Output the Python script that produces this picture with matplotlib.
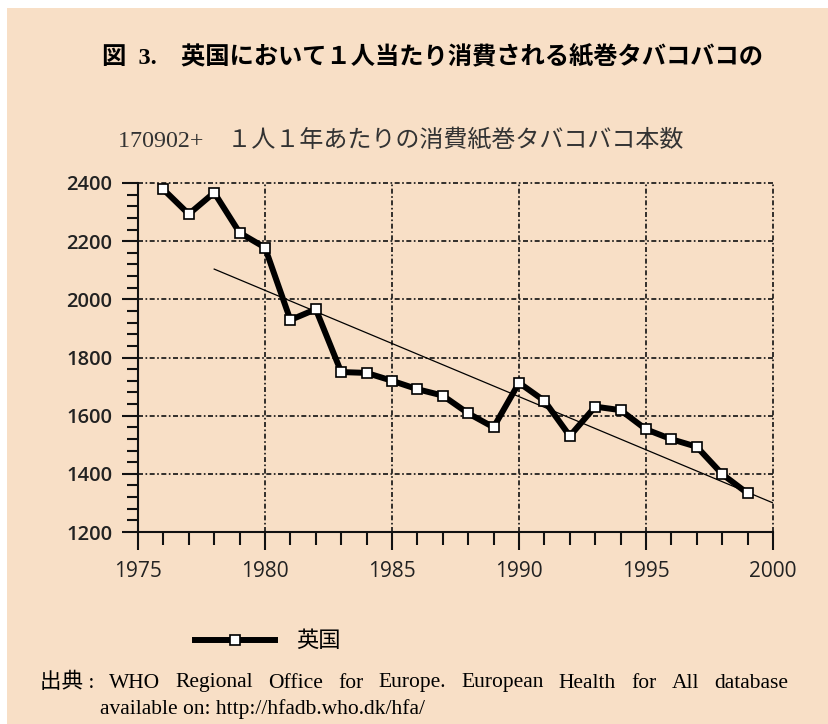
import matplotlib
matplotlib.use("Agg")
import matplotlib.pyplot as plt
from matplotlib.patches import Rectangle
from matplotlib.ticker import MultipleLocator
from matplotlib.lines import Line2D

W, H = 829, 724

TITLE = "図  3.　英国において１人当たり消費される紙巻タバコバコの"
SUBTITLE = "170902+　１人１年あたりの消費紙巻タバコバコ本数"
SERIES_LABEL = "英国"
SOURCE_HEAD = "出典 :"
SOURCE_LINE1 = "WHO Regional Office for Europe. European Health for All database"
SOURCE_LINE2 = "available on: http://hfadb.who.dk/hfa/"

years = [1976, 1977, 1978, 1979, 1980, 1981, 1982, 1983, 1984, 1985, 1986, 1987,
         1988, 1989, 1990, 1991, 1992, 1993, 1994, 1995, 1996, 1997, 1998, 1999]
cigarettes = [2378, 2293, 2367, 2229, 2178, 1929, 1966, 1750, 1747, 1720, 1691, 1669,
              1608, 1560, 1713, 1651, 1530, 1631, 1619, 1553, 1519, 1493, 1399, 1333]

# trend line as drawn in the original (start / end)
trend_years = [1978, 2000]
trend_values = [2104, 1300]

x_ticks = [1975, 1980, 1985, 1990, 1995, 2000]
y_ticks = [1200, 1400, 1600, 1800, 2000, 2200, 2400]

BG = "#f8dfc6"
CJK = ["Liberation Serif", "Noto Sans CJK JP"]

fig = plt.figure(figsize=(W / 100, H / 100), dpi=100, facecolor="white")
# peach panel with thin white margin at top and left
fig.patches.append(Rectangle((7 / W, 0), 1, 1 - 8 / H, transform=fig.transFigure,
                             facecolor=BG, edgecolor="none", zorder=-5))

ax = fig.add_axes([138 / W, 1 - 532 / H, 635 / W, 349 / H])
ax.set_facecolor("none")
ax.set_zorder(2)

ax.plot(trend_years, trend_values, color="black", lw=0.9, zorder=3)
ax.plot(years, cigarettes, color="black", lw=4.3, marker="s", markersize=7.3,
        markerfacecolor="white", markeredgecolor="black", markeredgewidth=1.2,
        zorder=4)

ax.set_xlim(1975, 2000)
ax.set_ylim(1200, 2400)
ax.set_xticks(x_ticks)
ax.set_yticks(y_ticks)
ax.xaxis.set_minor_locator(MultipleLocator(1))
ax.yaxis.set_minor_locator(MultipleLocator(40))

grid_style = dict(color="#111111", lw=1.2, linestyle=(0, (3, 1.5, 1, 1.5)), zorder=2,
                  clip_on=False)
for x in x_ticks[1:]:
    ax.axvline(x, **grid_style)
for y in y_ticks[1:]:
    ax.axhline(y, **grid_style)

for side in ["top", "right"]:
    ax.spines[side].set_visible(False)
for side in ["left", "bottom"]:
    ax.spines[side].set_linewidth(1.5)
    ax.spines[side].set_color("#111111")

ax.tick_params(axis="x", which="major", direction="out", length=13, width=1.5,
               pad=8, labelsize=15, labelcolor="#222222", color="#111111")
ax.tick_params(axis="x", which="minor", direction="out", length=9, width=1.5,
               color="#111111")
ax.tick_params(axis="y", which="major", direction="out", length=11.5, width=1.5,
               pad=7, labelsize=14.5, labelcolor="#222222", color="#111111")
ax.tick_params(axis="y", which="minor", direction="out", length=8, width=1.5,
               color="#111111")
for lab in ax.get_xticklabels():
    lab.set_family(["Open Sans", "DejaVu Sans"])
for lab in ax.get_yticklabels():
    lab.set_family(["Open Sans", "DejaVu Sans"])
    lab.set_fontweight("semibold")

# titles
fig.text(102 / W, 1 - 57 / H, TITLE, family=CJK, fontsize=17.5, fontweight="bold",
         ha="left", va="center", color="black")
fig.text(118 / W, 1 - 140 / H, SUBTITLE, family=CJK, fontsize=17.3,
         ha="left", va="center", color="#333333")

# legend
handle = Line2D([], [], color="black", lw=4.3, marker="s", markersize=7,
                markerfacecolor="white", markeredgecolor="black", markeredgewidth=1.2)
fig.legend([handle], [SERIES_LABEL], loc="center left",
           bbox_to_anchor=(195 / W, 1 - 642 / H), frameon=False, borderpad=0,
           borderaxespad=0, handlelength=3.6, handletextpad=0.95,
           prop={"family": CJK, "size": 16})

# source, first line justified between the margins
fig.canvas.draw()
renderer = fig.canvas.get_renderer()
words = [SOURCE_HEAD] + SOURCE_LINE1.split()
texts = [fig.text(0, 1 - 683 / H, w, family=CJK, fontsize=15.5, ha="left",
                  va="center", color="black") for w in words]
widths = [t.get_window_extent(renderer).width for t in texts]
x0, x1 = 40, 788
gap = (x1 - x0 - sum(widths)) / (len(words) - 1)
x = x0
for t, w in zip(texts, widths):
    t.set_x(x / W)
    x += w + gap
fig.text(100 / W, 1 - 709 / H, SOURCE_LINE2, family=CJK, fontsize=15.5,
         ha="left", va="center", color="black")

fig.savefig("out.png", dpi=100, facecolor=fig.get_facecolor())
